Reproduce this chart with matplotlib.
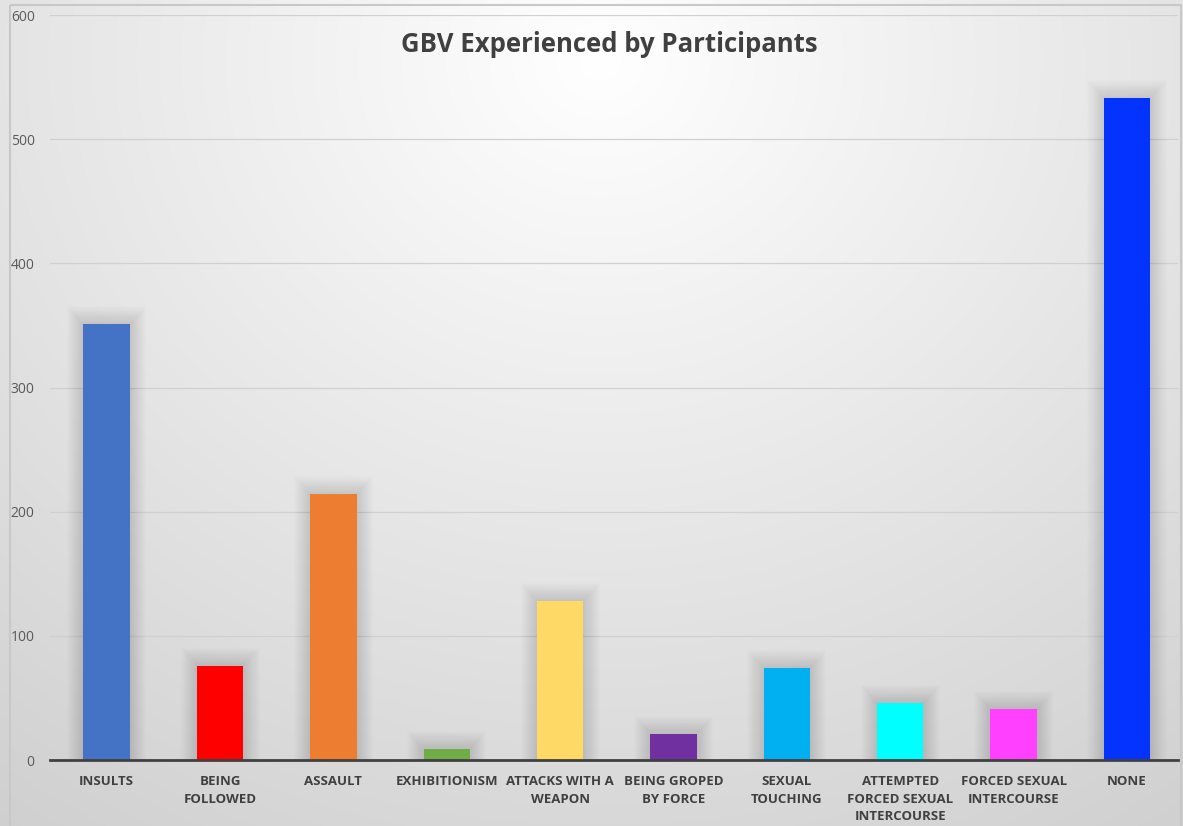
import numpy as np
import matplotlib
matplotlib.use("Agg")
import matplotlib.pyplot as plt
from matplotlib.patches import Rectangle

categories = ["INSULTS", "BEING\nFOLLOWED", "ASSAULT", "EXHIBITIONISM", "ATTACKS WITH A\nWEAPON",
              "BEING GROPED\nBY FORCE", "SEXUAL\nTOUCHING", "ATTEMPTED\nFORCED SEXUAL\nINTERCOURSE",
              "FORCED SEXUAL\nINTERCOURSE", "NONE"]
values = [351, 76, 214, 9, 128, 21, 74, 46, 41, 533]
colors = ["#4472C4", "#FF0000", "#ED7D31", "#70AD47", "#FFD966", "#7030A0",
          "#00B0F0", "#00FFFF", "#FF40FF", "#0432FF"]
yticks = [0, 100, 200, 300, 400, 500, 600]

plt.rcParams['font.family'] = ['Open Sans', 'DejaVu Sans']

W, H = 1183, 826
fig = plt.figure(figsize=(W / 100, H / 100), dpi=100)

# radial gradient background
bg = fig.add_axes([0, 0, 1, 1], zorder=-10)
yy, xx = np.mgrid[0:H, 0:W]
r = np.sqrt(((xx - 600) / 900.0) ** 2 + ((yy - 60) / 800.0) ** 2)
shade = 1.0 - 0.16 * np.clip(r, 0, 1.2)
img = np.dstack([shade, shade, shade])
bg.imshow(np.clip(img, 0, 1), aspect='auto', extent=[0, W, H, 0])
bg.add_patch(Rectangle((10, 5), W - 12, H, fill=False, edgecolor="#c8c8c8", linewidth=1.5))
bg.set_xlim(0, W)
bg.set_ylim(H, 0)
bg.axis('off')

ax = fig.add_axes([50 / W, (H - 760) / H, 1128 / W, 745 / H])
ax.patch.set_alpha(0)
x = np.arange(len(categories))

# soft shadows around bars
for k in range(16):
    ax.bar(x, np.array(values) + 1 + k * 0.9, width=0.41 + 0.018 * (k + 1), color="#000000",
           alpha=0.007, zorder=1, linewidth=0)
ax.bar(x, values, width=0.41, color=colors, zorder=3, linewidth=0)

ax.set_xlim(-0.5, 9.45)
ax.set_ylim(0, 600)
ax.set_yticks(yticks)
ax.set_yticklabels([str(t) for t in yticks], fontsize=10, color="#595959")
ax.tick_params(axis='y', length=0, pad=11)
ax.set_xticks(x)
ax.set_xticklabels(categories, fontsize=9.5, fontweight='bold', color="#404040", linespacing=1.45)
ax.tick_params(axis='x', length=0, pad=11)
ax.grid(axis='y', color="#d0d0d0", linewidth=0.9, zorder=0)
ax.set_axisbelow(True)
for s in ["top", "right", "left"]:
    ax.spines[s].set_visible(False)
ax.spines["bottom"].set_color("#404040")
ax.spines["bottom"].set_linewidth(2)
ax.spines["bottom"].set_zorder(4)

fig.text(0.515, 1 - 45 / H, "GBV Experienced by Participants", ha='center', va='center',
         fontsize=18.5, fontweight='bold', color="#404040")

fig.savefig("out.png", dpi=100)
